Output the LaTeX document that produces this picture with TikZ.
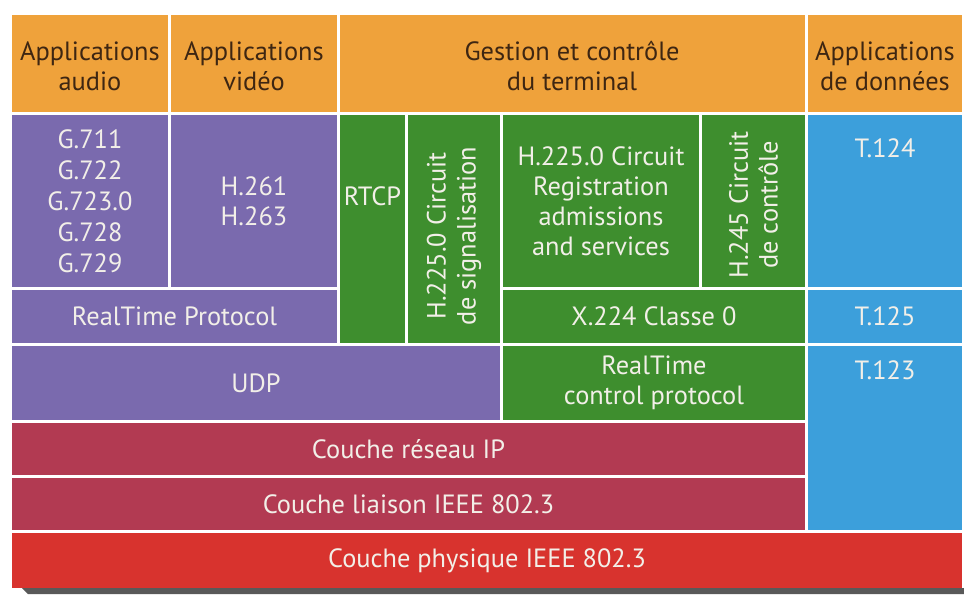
\documentclass[tikz,border=0pt]{standalone}
\usepackage{fontspec}
\setmainfont{PT Sans}
\definecolor{cOrange}{HTML}{EFA23B}
\definecolor{cPurple}{HTML}{7A6AAE}
\definecolor{cGreen}{HTML}{3E8E2E}
\definecolor{cBlue}{HTML}{3C9FDB}
\definecolor{cMaroon}{HTML}{B23A52}
\definecolor{cRed}{HTML}{D8332E}
\definecolor{cHead}{HTML}{3E2612}
\definecolor{cLight}{HTML}{F2EFE8}
\newcommand\blk[6]{\node[box, fill=#6, minimum width={(#4-#2)*1bp}, minimum height={(#5-#3)*1bp}] (#1) at (#2,#3) {};}
\tikzset{
  box/.style={rectangle, inner sep=0pt, outer sep=0pt, anchor=north west, draw=none},
  txt/.style={text=cLight, align=center, inner sep=0pt, font=\fontsize{26.5}{30}\selectfont},
  htxt/.style={txt, text=cHead},
}
\begin{document}
\begin{tikzpicture}[x=1bp,y=-1bp]
\useasboundingbox (0,0) rectangle (964,595);
\fill[white] (0,0) rectangle (964,595);
% shadow
\fill[black!65] (22,588) -- (964,588) -- (964,594) -- (28,594) -- cycle;
% header row
\blk{hA}{12}{15}{168}{112}{cOrange}
\blk{hB}{171}{15}{337}{112}{cOrange}
\blk{hC}{340}{15}{805}{112}{cOrange}
\blk{hD}{808}{15}{962}{112}{cOrange}
% purple
\blk{gA}{12}{115}{168}{287}{cPurple}
\blk{gB}{171}{115}{337}{287}{cPurple}
\blk{rtp}{12}{290}{337}{343}{cPurple}
\blk{udp}{12}{346}{500}{420}{cPurple}
% green
\blk{rtcp}{340}{115}{405}{343}{cGreen}
\blk{sig}{408}{115}{500}{343}{cGreen}
\blk{ras}{503}{115}{699}{287}{cGreen}
\blk{ctl}{702}{115}{805}{287}{cGreen}
\blk{x224}{503}{290}{805}{343}{cGreen}
\blk{rtctl}{503}{346}{805}{420}{cGreen}
% blue
\blk{t124}{808}{115}{962}{287}{cBlue}
\blk{t125}{808}{290}{962}{343}{cBlue}
\blk{t123}{808}{346}{962}{530}{cBlue}
% red layers
\blk{ip}{12}{423}{805}{475}{cMaroon}
\blk{lnk}{12}{478}{805}{530}{cMaroon}
\blk{phy}{12}{533}{962}{588}{cRed}
% texts
\node[htxt] (lhA) at (90,66) {Applications\\audio};
\node[htxt] (lhB) at (254,66) {Applications\\vidéo};
\node[htxt] (lhC) at (572,66) {Gestion et contrôle\\du terminal};
\node[htxt] (lhD) at (885,66) {Applications\\de données};
\node[txt, font=\fontsize{26.5}{31}\selectfont] (lgA) at (gA.center) {G.711\\G.722\\G.723.0\\G.728\\G.729};
\node[txt] (lgB) at (gB.center) {H.261\\H.263};
\node[txt] (lrtp) at (rtp.center) {RealTime Protocol};
\node[txt] (ludp) at (udp.center) {UDP};
\node[txt] (lrtcp) at (372.5,196) {RTCP};
\node[txt, rotate=90] (lsig) at (454,236) {H.225.0 Circuit\\de signalisation};
\node[txt] (lras) at (ras.center) {H.225.0 Circuit\\Registration\\admissions\\and services};
\node[txt, rotate=90] (lctl) at (753.5,205) {H.245 Circuit\\de contrôle};
\node[txt] (lx224) at (x224.center) {X.224 Classe 0};
\node[txt] (lrtctl) at (rtctl.center) {RealTime\\control protocol};
\node[txt] (lt124) at (885,148) {T.124};
\node[txt] (lt125) at (t125.center) {T.125};
\node[txt] (lt123) at (885,370) {T.123};
\node[txt] (lip) at (ip.center) {Couche réseau IP};
\node[txt] (llnk) at (lnk.center) {Couche liaison IEEE 802.3};
\node[txt] (lphy) at (phy.center) {Couche physique IEEE 802.3};
\end{tikzpicture}
\end{document}
